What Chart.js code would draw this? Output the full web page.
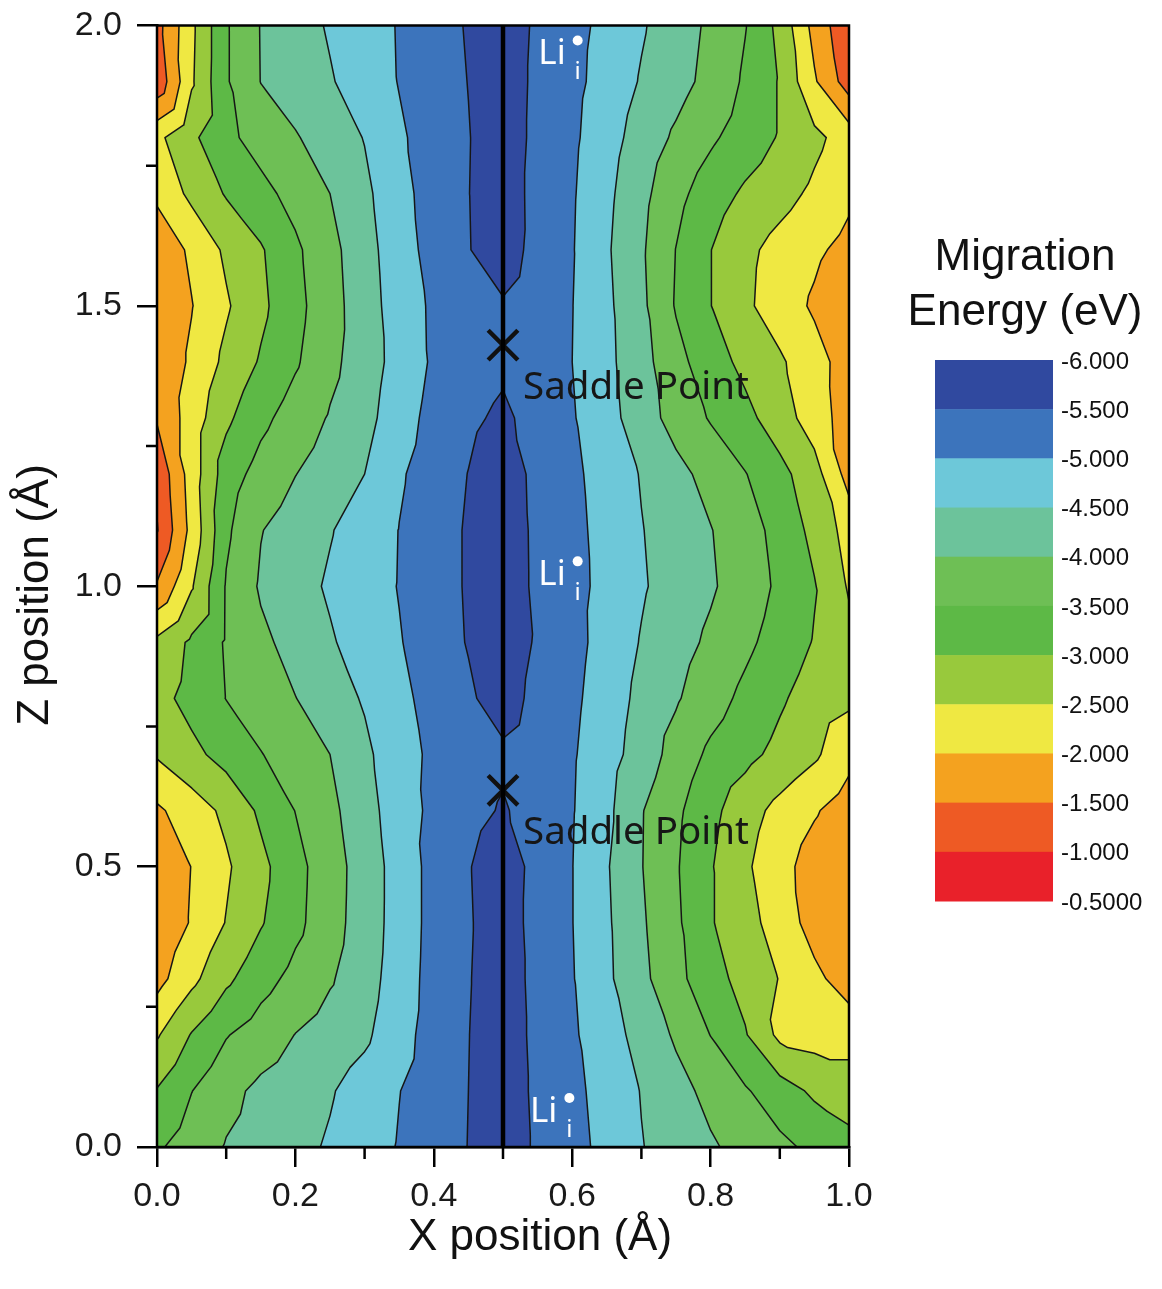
<!DOCTYPE html>
<html>
<head>
<meta charset="utf-8">
<script src="https://cdn.jsdelivr.net/npm/chart.js@4.4.1/dist/chart.umd.min.js"></script>
<style>
html,body{margin:0;padding:0;background:#fff;}
canvas{display:block;}
</style>
</head>
<body>
<canvas id="c" width="1162" height="1289" style="width:1162px;height:1289px"></canvas>
<script>
// ---------------- data ----------------
const xPositions = [0.00, 0.05, 0.10, 0.15, 0.20, 0.25, 0.30, 0.35, 0.40, 0.45, 0.50,
                    0.55, 0.60, 0.65, 0.70, 0.75, 0.80, 0.85, 0.90, 0.95, 1.00];
const zPositions = [2.0, 1.9, 1.8, 1.7, 1.6, 1.5, 1.4, 1.3, 1.2, 1.1, 1.0,
                    0.9, 0.8, 0.7, 0.6, 0.5, 0.4, 0.3, 0.2, 0.1, 0.0];
// migration energy (eV), one row per z position (top row z = 2.0)
const energyRows = [
 [-1.32,-2.39,-3.45,-4.02,-4.29,-4.55,-4.79,-5.03,-5.29,-5.54,-5.80,-5.41,-5.15,-4.87,-4.55,-4.24,-3.91,-3.52,-2.86,-1.83,-1.10],
 [-1.13,-2.43,-3.45,-4.01,-4.24,-4.46,-4.73,-5.02,-5.26,-5.51,-5.80,-5.38,-5.13,-4.81,-4.46,-4.18,-3.85,-3.43,-2.96,-2.06,-1.25],
 [-2.38,-2.90,-3.38,-3.70,-3.96,-4.24,-4.52,-4.93,-5.22,-5.48,-5.80,-5.36,-5.09,-4.70,-4.29,-3.92,-3.58,-3.27,-2.96,-2.62,-2.27],
 [-2.10,-2.62,-3.04,-3.35,-3.67,-4.00,-4.39,-4.85,-5.20,-5.49,-5.80,-5.32,-5.05,-4.61,-4.14,-3.65,-3.24,-2.92,-2.68,-2.40,-2.10],
 [-1.65,-2.09,-2.59,-2.95,-3.41,-3.85,-4.31,-4.79,-5.17,-5.48,-5.75,-5.33,-5.03,-4.56,-4.07,-3.49,-3.01,-2.62,-2.33,-2.09,-1.85],
 [-1.60,-1.98,-2.44,-2.89,-3.35,-3.81,-4.27,-4.74,-5.08,-5.27,-5.45,-5.23,-5.01,-4.60,-4.11,-3.46,-3.01,-2.59,-2.25,-1.93,-1.62],
 [-1.60,-2.08,-2.62,-3.05,-3.44,-3.87,-4.26,-4.68,-5.07,-5.23,-5.40,-5.20,-5.00,-4.62,-4.18,-3.66,-3.22,-2.87,-2.57,-2.19,-1.77],
 [-1.55,-2.23,-2.90,-3.37,-3.73,-4.04,-4.34,-4.78,-5.16,-5.40,-5.60,-5.30,-5.04,-4.68,-4.24,-3.81,-3.46,-3.14,-2.74,-2.25,-1.76],
 [-1.10,-2.23,-3.25,-3.69,-3.99,-4.24,-4.50,-4.94,-5.24,-5.51,-5.80,-5.35,-5.10,-4.80,-4.47,-4.15,-3.83,-3.52,-3.15,-2.70,-1.80],
 [-0.97,-2.15,-3.41,-3.98,-4.23,-4.47,-4.73,-5.01,-5.28,-5.55,-5.85,-5.37,-5.13,-4.84,-4.52,-4.27,-4.02,-3.71,-3.34,-2.86,-2.31],
 [-1.55,-2.45,-3.54,-4.06,-4.32,-4.56,-4.79,-5.02,-5.28,-5.55,-5.85,-5.38,-5.14,-4.87,-4.55,-4.30,-4.06,-3.76,-3.41,-3.03,-2.45],
 [-2.61,-3.09,-3.55,-3.89,-4.18,-4.45,-4.71,-4.97,-5.25,-5.53,-5.80,-5.44,-5.15,-4.82,-4.47,-4.19,-3.91,-3.61,-3.29,-2.97,-2.64],
 [-2.83,-3.17,-3.51,-3.75,-3.99,-4.26,-4.55,-4.88,-5.17,-5.42,-5.75,-5.34,-5.10,-4.76,-4.37,-4.05,-3.71,-3.38,-3.07,-2.77,-2.60],
 [-2.55,-2.87,-3.18,-3.48,-3.74,-4.00,-4.39,-4.82,-5.09,-5.24,-5.40,-5.22,-5.05,-4.70,-4.28,-3.81,-3.40,-3.14,-2.86,-2.58,-2.15],
 [-1.92,-2.25,-2.61,-3.09,-3.51,-3.88,-4.30,-4.77,-5.11,-5.33,-5.55,-5.28,-5.03,-4.62,-4.03,-3.60,-3.14,-2.71,-2.35,-2.05,-1.75],
 [-1.62,-2.01,-2.43,-2.87,-3.34,-3.79,-4.22,-4.71,-5.16,-5.47,-5.80,-5.32,-5.01,-4.54,-4.02,-3.55,-3.04,-2.58,-2.17,-1.78,-1.55],
 [-1.60,-2.04,-2.52,-2.96,-3.37,-3.81,-4.23,-4.71,-5.16,-5.45,-5.80,-5.29,-5.01,-4.57,-4.07,-3.59,-3.04,-2.68,-2.28,-1.80,-1.60],
 [-1.83,-2.37,-2.90,-3.31,-3.65,-3.95,-4.29,-4.74,-5.18,-5.47,-5.80,-5.33,-5.03,-4.59,-4.13,-3.64,-3.20,-2.82,-2.48,-2.12,-1.76],
 [-2.45,-3.03,-3.47,-3.74,-4.01,-4.21,-4.41,-4.82,-5.20,-5.49,-5.80,-5.36,-5.07,-4.71,-4.33,-3.93,-3.49,-3.04,-2.38,-2.30,-2.30],
 [-3.03,-3.49,-3.86,-4.11,-4.28,-4.46,-4.71,-4.99,-5.24,-5.50,-5.80,-5.39,-5.12,-4.82,-4.48,-4.17,-3.86,-3.55,-3.23,-2.91,-2.75],
 [-3.43,-3.74,-4.03,-4.20,-4.37,-4.55,-4.79,-5.03,-5.27,-5.51,-5.80,-5.42,-5.16,-4.86,-4.52,-4.29,-4.06,-3.84,-3.61,-3.39,-3.16]
];
const bandBounds = [-6.0, -5.5, -5.0, -4.5, -4.0, -3.5, -3.0, -2.5, -2.0, -1.5, -1.0, -0.5];
const contourLevels = [-5.5, -5.0, -4.5, -4.0, -3.5, -3.0, -2.5, -2.0, -1.5, -1.0];
const bandColors = ['#30499F', '#3C74BC', '#6DC8D9', '#6CC39B', '#6EBF55', '#5DB946',
                    '#98C93C', '#EFE842', '#F4A21F', '#EE5A24', '#E9212A'];
const colorbarLabels = ['-6.000', '-5.500', '-5.000', '-4.500', '-4.000', '-3.500',
                        '-3.000', '-2.500', '-2.000', '-1.500', '-1.000', '-0.5000'];
const xMinorTicks = [0.1, 0.3, 0.5, 0.7, 0.9];
const zMinorTicks = [0.25, 0.75, 1.25, 1.75];
const dividerLine = [{x: 0.5, y: 0.0}, {x: 0.5, y: 2.0}];
const saddlePoints = [{x: 0.5, y: 1.430}, {x: 0.5, y: 0.636}];
const saddleLabel = 'Saddle Point';
const liSites = [{x: 0.551, y: 1.952}, {x: 0.551, y: 1.023}, {x: 0.539, y: 0.066}];

// ---------------- drawing helpers ----------------
const SANS = '"Liberation Sans", Arial, Helvetica, sans-serif';
const LABELFONT = '"Noto Sans", "Open Sans", sans-serif';

function hexToRgb(h) { const n = parseInt(h.slice(1), 16); return [(n >> 16) & 255, (n >> 8) & 255, n & 255]; }
function bandIndex(e) {
  let k = 0;
  while (k < bandColors.length - 1 && e >= bandBounds[k + 1]) k++;
  return k;
}
function triValue(i, j, u, v) {
  const a = energyRows[j][i], b = energyRows[j][i + 1], c = energyRows[j + 1][i + 1], d = energyRows[j + 1][i];
  if (u >= v) return a + u * (b - a) + v * (c - b);
  return a + v * (d - a) + u * (c - d);
}

const contourPlugin = {
  id: 'contour',
  beforeDatasetsDraw(chart) {
    const ctx = chart.ctx, ca = chart.chartArea, xs = chart.scales.x, ys = chart.scales.y;
    const L = Math.round(ca.left), T = Math.round(ca.top);
    const W = Math.round(ca.right) - L, H = Math.round(ca.bottom) - T;
    const img = ctx.createImageData(W, H);
    const nx = xPositions.length, nz = zPositions.length;
    const dx = xPositions[1] - xPositions[0], dz = zPositions[1] - zPositions[0];
    const rgb = bandColors.map(hexToRgb);
    const colX = new Float64Array(W);
    for (let px = 0; px < W; px++) colX[px] = xs.getValueForPixel(L + px + 0.5);
    for (let py = 0; py < H; py++) {
      const Z = ys.getValueForPixel(T + py + 0.5);
      const fj = (Z - zPositions[0]) / dz;
      const j = Math.min(nz - 2, Math.max(0, Math.floor(fj)));
      const v = Math.min(1, Math.max(0, fj - j));
      for (let px = 0; px < W; px++) {
        const fi = (colX[px] - xPositions[0]) / dx;
        const i = Math.min(nx - 2, Math.max(0, Math.floor(fi)));
        const u = Math.min(1, Math.max(0, fi - i));
        const c = rgb[bandIndex(triValue(i, j, u, v))];
        const o = (py * W + px) * 4;
        img.data[o] = c[0]; img.data[o + 1] = c[1]; img.data[o + 2] = c[2]; img.data[o + 3] = 255;
      }
    }
    ctx.putImageData(img, L, T);

    // contour lines (marching triangles on the same triangulation)
    ctx.save();
    ctx.beginPath();
    ctx.rect(ca.left, ca.top, ca.right - ca.left, ca.bottom - ca.top);
    ctx.clip();
    ctx.beginPath();
    const P = (i, j) => ({x: xPositions[i], z: zPositions[j], e: energyRows[j][i]});
    for (let j = 0; j < nz - 1; j++) {
      for (let i = 0; i < nx - 1; i++) {
        const a = P(i, j), b = P(i + 1, j), c = P(i + 1, j + 1), d = P(i, j + 1);
        const tris = [[a, b, c], [a, c, d]];
        for (const tri of tris) {
          for (const level of contourLevels) {
            const lev = level - 1e-7;
            const pts = [];
            for (let k = 0; k < 3; k++) {
              const p = tri[k], q = tri[(k + 1) % 3];
              if ((p.e - lev) * (q.e - lev) < 0) {
                const t = (lev - p.e) / (q.e - p.e);
                pts.push([p.x + t * (q.x - p.x), p.z + t * (q.z - p.z)]);
              }
            }
            if (pts.length === 2) {
              ctx.moveTo(xs.getPixelForValue(pts[0][0]), ys.getPixelForValue(pts[0][1]));
              ctx.lineTo(xs.getPixelForValue(pts[1][0]), ys.getPixelForValue(pts[1][1]));
            }
          }
        }
      }
    }
    ctx.strokeStyle = '#161616';
    ctx.lineWidth = 1.5;
    ctx.lineCap = 'round';
    ctx.stroke();
    ctx.restore();
  },
  afterDatasetsDraw(chart) {
    const ctx = chart.ctx, xs = chart.scales.x, ys = chart.scales.y;
    ctx.save();
    // saddle point labels
    ctx.fillStyle = '#161616';
    ctx.font = '38.5px ' + LABELFONT;
    ctx.textAlign = 'left';
    ctx.textBaseline = 'middle';
    for (const s of saddlePoints) {
      ctx.fillText(saddleLabel, xs.getPixelForValue(s.x) + 20, ys.getPixelForValue(s.y) + 43);
    }
    // Li interstitial labels
    ctx.fillStyle = '#ffffff';
    for (const s of liSites) {
      const px = xs.getPixelForValue(s.x), py = ys.getPixelForValue(s.y);
      ctx.font = '35px ' + LABELFONT;
      ctx.textBaseline = 'alphabetic';
      ctx.textAlign = 'left';
      ctx.fillText('Li', px, py + 12);
      const w = ctx.measureText('Li').width;
      ctx.beginPath();
      ctx.arc(px + w + 12, py - 12, 5, 0, Math.PI * 2);
      ctx.fill();
      ctx.font = '24px ' + LABELFONT;
      ctx.textAlign = 'center';
      ctx.fillText('i', px + w + 12, py + 27);
    }
    ctx.restore();
  },
  afterDraw(chart) {
    const ctx = chart.ctx, ca = chart.chartArea, xs = chart.scales.x, ys = chart.scales.y;
    ctx.save();
    // frame
    ctx.strokeStyle = '#000';
    ctx.lineWidth = 2.5;
    ctx.strokeRect(ca.left, ca.top, ca.right - ca.left, ca.bottom - ca.top);
    // minor ticks
    ctx.lineWidth = 2.5;
    ctx.beginPath();
    for (const v of xMinorTicks) {
      const px = xs.getPixelForValue(v);
      ctx.moveTo(px, ca.bottom); ctx.lineTo(px, ca.bottom + 12);
    }
    for (const v of zMinorTicks) {
      const py = ys.getPixelForValue(v);
      ctx.moveTo(ca.left, py); ctx.lineTo(ca.left - 11, py);
    }
    ctx.stroke();
    // axis titles
    ctx.fillStyle = '#111';
    ctx.font = '44px ' + SANS;
    ctx.textAlign = 'center';
    ctx.textBaseline = 'middle';
    ctx.fillText('X position (\u00C5)', 540, 1238);
    ctx.save();
    ctx.translate(36, 595);
    ctx.rotate(-Math.PI / 2);
    ctx.fillText('Z position (\u00C5)', 0, 0);
    ctx.restore();
    // colour bar
    const cbLeft = 935, cbRight = 1053, cbTop = 360, cbBottom = 901;
    const n = bandColors.length;
    const h = (cbBottom - cbTop) / n;
    for (let k = 0; k < n; k++) {
      ctx.fillStyle = bandColors[k];
      ctx.fillRect(cbLeft, cbTop + k * h, cbRight - cbLeft, h + 0.5);
    }
    ctx.fillStyle = '#111';
    ctx.font = '24px ' + SANS;
    ctx.textAlign = 'left';
    ctx.textBaseline = 'middle';
    colorbarLabels.forEach((t, k) => ctx.fillText(t, cbRight + 8, cbTop + k * h + 2));
    // colour bar title
    ctx.font = '44px ' + SANS;
    ctx.textAlign = 'center';
    ctx.fillText('Migration', 1025, 258);
    ctx.fillText('Energy (eV)', 1025, 313);
    ctx.restore();
  }
};

const tickFont = {family: SANS, size: 34};
new Chart(document.getElementById('c'), {
  type: 'scatter',
  data: {
    datasets: [
      {type: 'line', data: dividerLine, borderColor: '#000', borderWidth: 4.5, pointRadius: 0, fill: false},
      {type: 'scatter', data: saddlePoints, pointStyle: 'crossRot', pointRadius: 21,
       borderColor: '#111', borderWidth: 4.5, backgroundColor: '#111'}
    ]
  },
  options: {
    responsive: false,
    animation: false,
    devicePixelRatio: 1,
    events: [],
    layout: {padding: {left: 0, right: 313, top: 25, bottom: 0}},
    plugins: {legend: {display: false}, tooltip: {enabled: false}},
    scales: {
      x: {
        type: 'linear', position: 'bottom', min: 0, max: 1,
        afterFit(s) { s.height = 142; s.paddingLeft = 0; s.paddingRight = 0; },
        ticks: {stepSize: 0.2, callback: v => Number(v).toFixed(1), font: tickFont, color: '#1a1a1a',
                padding: 9, maxRotation: 0, autoSkip: false},
        grid: {drawOnChartArea: false, drawTicks: true, tickLength: 20, color: '#000', lineWidth: 2.5},
        border: {display: true, color: '#000', width: 2.5}
      },
      y: {
        type: 'linear', position: 'left', min: 0, max: 2,
        afterFit(s) { s.width = 157; s.paddingTop = 0; s.paddingBottom = 0; },
        ticks: {stepSize: 0.5, callback: v => Number(v).toFixed(1), font: tickFont, color: '#1a1a1a',
                padding: 15, autoSkip: false},
        grid: {drawOnChartArea: false, drawTicks: true, tickLength: 20, color: '#000', lineWidth: 2.5},
        border: {display: true, color: '#000', width: 2.5}
      }
    }
  },
  plugins: [contourPlugin]
});
</script>
</body>
</html>
